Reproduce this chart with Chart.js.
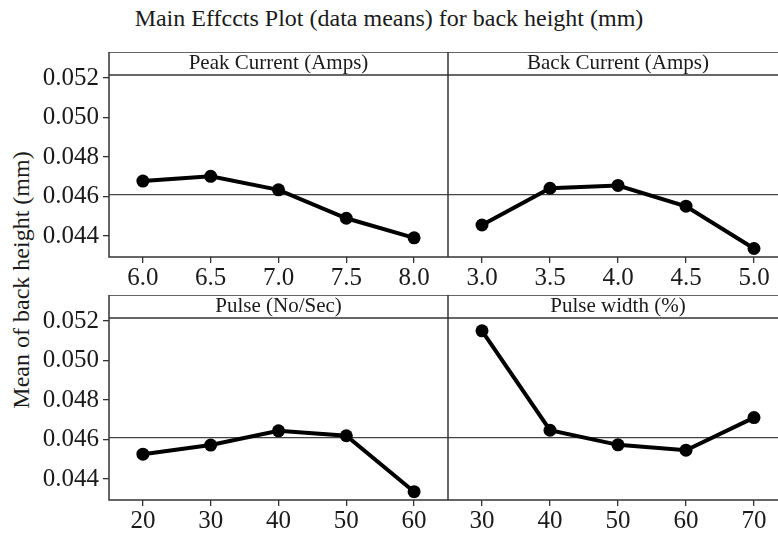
<!DOCTYPE html>
<html lang="en">
<head>
<meta charset="UTF-8">
<title>Main Effects Plot</title>
<script src="https://cdn.jsdelivr.net/npm/chart.js"></script>
<style>
  body {
    margin: 0;
    background: #fff;
    width: 778px;
    height: 536px;
    overflow: hidden;
    position: relative;
    font-family: "Liberation Serif", "Times New Roman", serif;
    color: #1a1a1a;
  }
  canvas { position: absolute; }
  #title {
    position: absolute;
    top: 5px;
    left: 0;
    width: 778px;
    text-align: center;
    font-size: 24px;
  }
  #ytitle {
    position: absolute;
    left: 21px;
    top: 280px;
    transform: translate(-50%, -50%) rotate(-90deg);
    white-space: nowrap;
    font-size: 24px;
  }
</style>
</head>
<body>
<div id="title">Main Effccts Plot (data means) for back height (mm)</div>
<div id="ytitle">Mean of back height (mm)</div>
<canvas id="c1" width="448" height="239" style="left:0;top:52px"></canvas>
<canvas id="c2" width="340" height="239" style="left:448px;top:52px"></canvas>
<canvas id="c3" width="448" height="239" style="left:0;top:295px"></canvas>
<canvas id="c4" width="340" height="239" style="left:448px;top:295px"></canvas>

<script>
const peakLabels = ['6.0', '6.5', '7.0', '7.5', '8.0'];
const peakMeans = [0.04678, 0.04702, 0.04634, 0.04490, 0.04391];
const backLabels = ['3.0', '3.5', '4.0', '4.5', '5.0'];
const backMeans = [0.04456, 0.04642, 0.04656, 0.04551, 0.04337];
const pulseLabels = ['20', '30', '40', '50', '60'];
const pulseMeans = [0.04526, 0.04572, 0.04644, 0.04619, 0.04336];
const widthLabels = ['30', '40', '50', '60', '70'];
const widthMeans = [0.05150, 0.04647, 0.04573, 0.04546, 0.04711];
const yTicks = [0.044, 0.046, 0.048, 0.050, 0.052];
const grandMean = 0.0461;
const yMin = 0.04294;
const yMax = 0.05215;

const FONT = '"Liberation Serif", "Times New Roman", serif';
const HEADER_H = 23;

// frame around the panel + header strip, and the grand mean reference line
const panelFrame = {
    id: 'panelFrame',
    beforeDatasetsDraw(chart) {
        const { ctx, chartArea: a, scales } = chart;
        const y = scales.y.getPixelForValue(grandMean);
        ctx.save();
        ctx.strokeStyle = '#444';
        ctx.lineWidth = 1.3;
        ctx.beginPath();
        ctx.moveTo(a.left, y);
        ctx.lineTo(a.right, y);
        ctx.stroke();
        ctx.restore();
    },
    afterDraw(chart) {
        const { ctx, chartArea: a } = chart;
        ctx.save();
        ctx.strokeStyle = '#333';
        ctx.lineWidth = 1.5;
        ctx.strokeRect(a.left, a.top - HEADER_H, a.right - a.left, a.bottom - a.top + HEADER_H);
        ctx.beginPath();
        ctx.moveTo(a.left, a.top);
        ctx.lineTo(a.right, a.top);
        ctx.stroke();
        ctx.restore();
    }
};

function makePanel(id, header, labels, values, showY) {
    new Chart(document.getElementById(id), {
        type: 'line',
        data: {
            labels: labels,
            datasets: [{
                data: values,
                borderColor: '#000',
                backgroundColor: '#000',
                borderWidth: 4,
                pointRadius: 6.5,
                pointBackgroundColor: '#000',
                pointBorderWidth: 0,
                tension: 0
            }]
        },
        options: {
            responsive: false,
            animation: false,
            layout: { padding: 0, autoPadding: false },
            plugins: {
                legend: { display: false },
                tooltip: { enabled: false },
                title: {
                    display: true,
                    text: header,
                    fullSize: false,
                    padding: 0,
                    color: '#1a1a1a',
                    font: { family: FONT, size: 21, weight: 'normal', lineHeight: HEADER_H / 21 }
                }
            },
            scales: {
                x: {
                    type: 'category',
                    offset: true,
                    grid: { offset: false, drawOnChartArea: false, drawTicks: true, tickLength: 6, color: '#333', lineWidth: 1.3 },
                    border: { display: false },
                    ticks: { color: '#1a1a1a', font: { family: FONT, size: 25 }, padding: 0, maxRotation: 0 },
                    afterFit: s => {
                        s.height = 34;
                        s.paddingLeft = 0;
                        s.paddingRight = 0;
                    }
                },
                y: {
                    display: showY,
                    min: yMin,
                    max: yMax,
                    afterBuildTicks: s => { s.ticks = yTicks.map(v => ({ value: v })); },
                    grid: { drawOnChartArea: false, drawTicks: true, tickLength: 6, color: '#333', lineWidth: 1.3 },
                    border: { display: false },
                    ticks: { color: '#1a1a1a', font: { family: FONT, size: 25 }, padding: 4, callback: v => v.toFixed(3) },
                    afterFit: s => {
                        s.width = showY ? 109 : 0;
                        s.paddingTop = 0;
                        s.paddingBottom = 0;
                    }
                }
            }
        },
        plugins: [panelFrame]
    });
}

makePanel('c1', 'Peak Current (Amps)', peakLabels, peakMeans, true);
makePanel('c2', 'Back Current (Amps)', backLabels, backMeans, false);
makePanel('c3', 'Pulse (No/Sec)', pulseLabels, pulseMeans, true);
makePanel('c4', 'Pulse width (%)', widthLabels, widthMeans, false);
</script>
</body>
</html>
